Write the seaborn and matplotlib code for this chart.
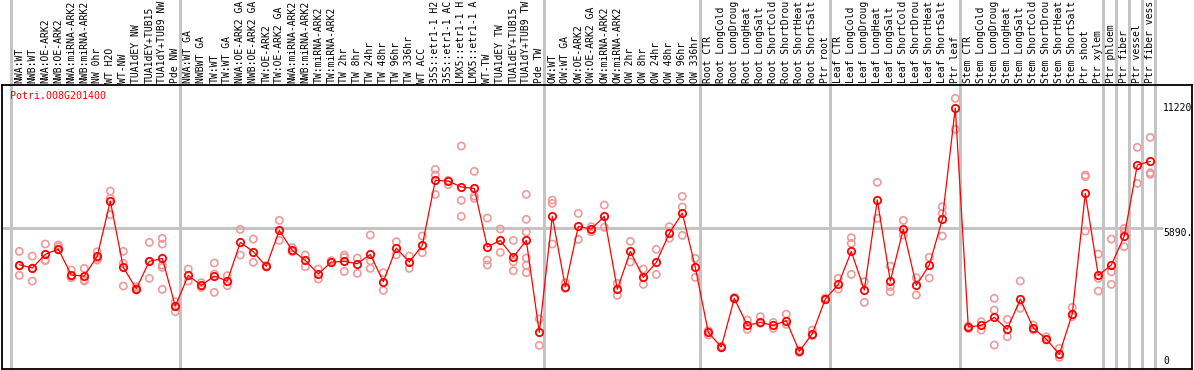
import numpy as np
import pandas as pd
import matplotlib
matplotlib.use("Agg")
import matplotlib.pyplot as plt
import matplotlib.transforms as mtransforms
import seaborn as sns

gene = "Potri.008G201400"

samples = [
    "NWA:WT", "NWB:WT", "NWA:OE-ARK2", "NWB:OE-ARK2", "NWA:miRNA-ARK2", "NWB:miRNA-ARK2",
    "NW 0hr", "WT H2O", "WT-NW", "TUA1dEY NW", "TUA1dEY+TUB15", "TUA1dY+TUB9 NW", "Pde NW",
    "NWA:WT GA", "NWBWT GA", "TW:WT", "TW:WT GA", "NWA:OE-ARK2 GA", "NWB:OE-ARK2 GA",
    "TW:OE-ARK2", "TW:OE-ARK2 GA", "NWA:miRNA-ARK2", "NWB:miRNA-ARK2", "TW:miRNA-ARK2",
    "TW:miRNA-ARK2", "TW 2hr", "TW 8hr", "TW 24hr", "TW 48hr", "TW 96hr", "TW 336hr",
    "WT ACC", "35S::etr1-1 H2", "35S::etr1-1 AC", "LMX5::etr1-1 H", "LMX5::etr1-1 A",
    "WT-TW", "TUA1dEY TW", "TUA1dEY+TUB15", "TUA1dY+TUB9 TW", "Pde TW",
    "OW:WT", "OW:WT GA", "OW:OE-ARK2", "OW:OE-ARK2 GA", "OW:miRNA-ARK2", "OW:miRNA-ARK2",
    "OW 2hr", "OW 8hr", "OW 24hr", "OW 48hr", "OW 96hr", "OW 336hr",
    "Root CTR", "Root LongCold", "Root LongDroug", "Root LongHeat", "Root LongSalt",
    "Root ShortCold", "Root ShortDrou", "Root ShortHeat", "Root ShortSalt", "Ptr root",
    "Leaf CTR", "Leaf LongCold", "Leaf LongDroug", "Leaf LongHeat", "Leaf LongSalt",
    "Leaf ShortCold", "Leaf ShortDrou", "Leaf ShortHeat", "Leaf ShortSalt", "Ptr leaf",
    "Stem CTR", "Stem LongCold", "Stem LongDroug", "Stem LongHeat", "Stem LongSalt",
    "Stem ShortCold", "Stem ShortDrou", "Stem ShortHeat", "Stem ShortSalt", "Ptr shoot",
    "Ptr xylem", "Ptr phloem", "Ptr fiber", "Ptr vessel", "Ptr fiber vess",
]

mean_expr = [
    4260, 4112, 4719, 4956, 3800, 3756, 4645, 7088, 4141, 3193, 4408, 4541, 2423,
    3786, 3341, 3756, 3534, 5252, 4837, 4186, 5785, 4896, 4452, 3845, 4378, 4408,
    4304, 4719, 3504, 5000, 4378, 5119, 8007, 7977, 7710, 7651, 5045, 5341, 4600,
    5341, 1253,
    6407, 3282, 5963, 5844, 6407, 3164, 4852, 3697, 4363, 5652, 6555, 4141,
    1253, 601, 2764, 1564, 1698, 1564, 1772, 409, 1194, 2734,
    3386, 4852, 3134, 7133, 3534, 5830, 3341, 4245, 6274, 11220,
    1490, 1564, 1919, 1387, 2734, 1446, 957, 276, 2082, 7429, 3786,
    4245, 5533, 8688, 8851,
]

replicates = [
    [4852, 4200, 3786], [4645, 4112, 3534], [5178, 4467, 4437], [5133, 5059, 4911],
    [4023, 3726, 3682], [4097, 3578, 3534], [4837, 4541, 4467], [7533, 7207, 6481],
    [4852, 4319, 3312], [3282, 3193, 3134], [5252, 4408, 3652],
    [5430, 5178, 4245, 4141, 3164], [2616, 2394, 2171],
    [4067, 3534], [3460, 3252], [4334, 3845, 3030], [3771, 3327], [5830, 4689],
    [5400, 4363], [4215, 4156], [6229, 5341], [5015, 4837], [4689, 4171],
    [4067, 3623], [4437, 4348], [4689, 4585, 3963], [4556, 3875], [5578, 4437, 4097],
    [3904, 3119], [5281, 4704], [4645, 4097], [5533, 4793], [8495, 8243, 7384],
    [8007, 7814], [9532, 7118, 6407], [8406, 7311, 7207], [6333, 4467, 4245],
    [5844, 4807], [5341, 4393, 3993], [7384, 6274, 5711, 4556, 4230, 3904], [1846, 676],
    [7133, 6985, 5178], [3460, 3208], [6540, 5385], [5948, 5726], [6911, 5918],
    [3430, 2897], [5296, 4378], [4067, 3386], [4941, 3830], [5948, 5430],
    [7296, 6822, 5563], [4541, 3697],
    [1327, 1135], [646, 572], [2808, 2734], [1801, 1387], [1949, 1653], [1698, 1431],
    [2068, 1609], [468, 365], [1357, 1105], [2779, 2690],
    [3652, 3179], [5459, 5207, 3830], [3504, 2586], [7918, 6318], [4200, 3282, 3060],
    [6229, 5578], [3682, 2912], [4585, 3667], [6837, 6540, 5533], [11650, 10272],
    [1534, 1431], [1727, 1357], [2764, 2246, 690], [1831, 1061], [3534, 2320],
    [1579, 1357], [1061, 913], [542, 142], [2364, 1949], [8243, 8169, 5755],
    [4733, 3652, 3090], [5400, 3949, 3386], [5874, 5726, 5059], [9473, 7873],
    [9917, 8347, 8273],
]

group_sizes = [13, 28, 12, 10, 10, 11, 1, 1, 1, 1]

axis_values = [11220, 5890, 0]
axis_labels = ["11220", "5890.", "0"]

# ---------------------------------------------------------------
W, H = 1194, 370
sns.set_style("white")
plt.rcParams["font.family"] = ["DejaVu Sans Mono", "DejaVu Sans"]

fig = plt.figure(figsize=(W / 100, H / 100), dpi=100)
ax = fig.add_axes([2 / W, 1 - 369 / H, 1190 / W, 284 / H])

n = len(samples)
idx = np.arange(n)
mean_df = pd.DataFrame({"idx": idx, "value": mean_expr, "sample": samples})
rep_df = pd.DataFrame(
    [(i, v) for i, reps in enumerate(replicates) for v in reps], columns=["idx", "value"]
)

red = "#ff0000"
pink = "#ee9a9a"
grey = "#c4c4c4"

sns.scatterplot(data=rep_df, x="idx", y="value", ax=ax, marker="o", s=27,
                facecolor="none", edgecolor=pink, linewidth=1.2, legend=False, zorder=3)
sns.lineplot(data=mean_df, x="idx", y="value", ax=ax, color=red, lw=0.9,
             marker="o", markersize=5.3, markerfacecolor="none",
             markeredgecolor=red, markeredgewidth=1.3, estimator=None, zorder=4)

# axis limits (pixel-calibrated)
ax.set_xlim((2 - 19.3) / 13, (1192 - 19.3) / 13)
ax.set_ylim((360.6 - 369) / 0.02251, (360.6 - 85) / 0.02251)

bt_x = mtransforms.blended_transform_factory(ax.transData, ax.transAxes)
bt_y = mtransforms.blended_transform_factory(ax.transAxes, ax.transData)

# group separators
bounds = np.concatenate([[0], np.cumsum(group_sizes)])
for b in bounds:
    ax.axvline(b - 0.64, ymin=0, ymax=1 + 85 / 284, color=grey, lw=1.0,
               clip_on=False, zorder=1, antialiased=False)

# mid grid line
ax.axhline(axis_values[1], xmin=0, xmax=0.975, color=grey, lw=1.0, zorder=2,
           antialiased=False)

# sample labels on top
for i, s in enumerate(samples):
    ax.text(i, 1 + 2 / 284, s, transform=bt_x, rotation=90, ha="center", va="bottom",
            fontsize=7, color="black", clip_on=False)

# gene name
ax.text(8 / 1190, 1 - 11 / 284, gene, transform=ax.transAxes, color=red,
        fontsize=7.2, ha="left", va="center")

# value labels on right
vas = ["center", "top", "center"]
for v, lab, va in zip(axis_values, axis_labels, vas):
    ax.text(0.9756, v, lab, transform=bt_y, ha="left", va=va, fontsize=7, color="black")

ax.set_xticks([])
ax.set_yticks([])
ax.set_xlabel("")
ax.set_ylabel("")
for sp in ax.spines.values():
    sp.set_color("black")
    sp.set_linewidth(1.3)

fig.savefig("out.png", dpi=100)
